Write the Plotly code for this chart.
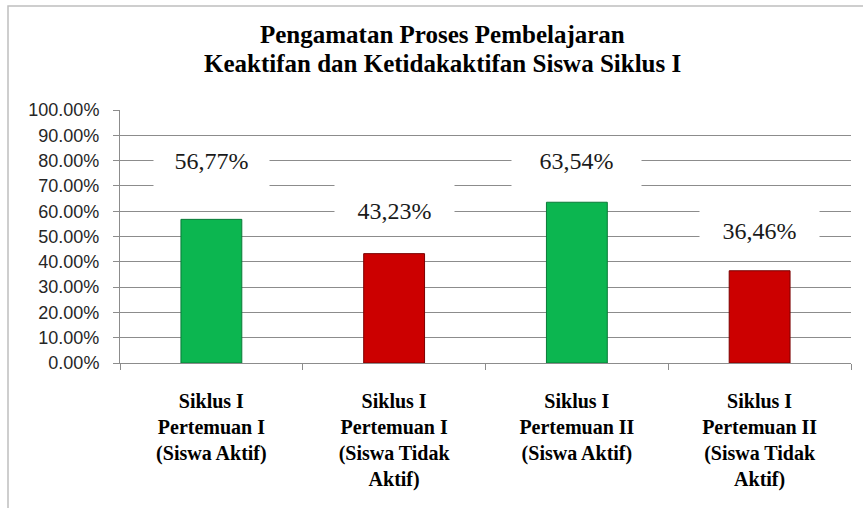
import plotly.graph_objects as go

# data
categories = [
    "Siklus I<br>Pertemuan I<br>(Siswa Aktif)",
    "Siklus I<br>Pertemuan I<br>(Siswa Tidak<br>Aktif)",
    "Siklus I<br>Pertemuan II<br>(Siswa Aktif)",
    "Siklus I<br>Pertemuan II<br>(Siswa Tidak<br>Aktif)",
]
values = [0.5677, 0.4323, 0.6354, 0.3646]
value_labels = ["56,77%", "43,23%", "63,54%", "36,46%"]
bar_colors = ["#0CB650", "#CC0000", "#0CB650", "#CC0000"]
bar_edges = ["#0A7A38", "#7A0000", "#0A7A38", "#7A0000"]

# where the data label boxes sit (moved by hand in the original)
label_box_y = [0.763, 0.636, 0.763, 0.557]
label_box_w = [115, 119, 129, 119]
label_valign = ["top", "bottom", "top", "bottom"]

serif = "Liberation Serif, Times New Roman, serif"
sans = "Liberation Sans, Arial, sans-serif"
grid = "#8C8C8C"

plot_l, plot_r, plot_t, plot_b = 120, 851, 110, 363
W, H = 863, 508
pw, ph = plot_r - plot_l, plot_b - plot_t


def px_x(x):
    return (x - plot_l) / pw


def px_y(y):
    return (plot_b - y) / ph


fig = go.Figure()
fig.add_trace(go.Bar(
    x=categories,
    y=values,
    marker=dict(color=bar_colors, line=dict(color=bar_edges, width=1)),
    hoverinfo="skip",
))

# data labels with white boxes covering the gridlines
for cat, txt, by, bw, va in zip(categories, value_labels, label_box_y, label_box_w, label_valign):
    fig.add_annotation(
        x=cat, y=by, xref="x", yref="y",
        text=txt, showarrow=False,
        font=dict(family=serif, size=24, color="#1a1a1a"),
        bgcolor="white", width=bw, height=44, valign=va, borderpad=0,
    )

# title, two lines placed separately to keep tight line spacing
for line, yc in [("Pengamatan Proses Pembelajaran", 35), ("Keaktifan dan Ketidakaktifan Siswa Siklus I", 64)]:
    fig.add_annotation(
        x=px_x(442), y=px_y(yc), xref="paper", yref="paper",
        text="<b>" + line + "</b>", showarrow=False,
        font=dict(family=serif, size=25, color="black"),
        xanchor="center", yanchor="middle",
    )

# chart area border
fig.add_shape(
    type="rect", xref="paper", yref="paper",
    x0=px_x(8), x1=px_x(W + 20), y0=px_y(H + 20), y1=px_y(6),
    line=dict(color="#BFBFBF", width=1.5), fillcolor="rgba(0,0,0,0)",
    layer="below",
)

fig.update_layout(
    width=W, height=H,
    margin=dict(l=plot_l, r=W - plot_r, t=plot_t, b=H - plot_b, autoexpand=False),
    paper_bgcolor="white", plot_bgcolor="white",
    showlegend=False,
    bargap=0.667,
    xaxis=dict(
        type="category",
        showline=True, linecolor=grid, linewidth=1,
        ticks="outside", tickson="boundaries", ticklen=6, tickcolor=grid,
        showgrid=False,
        tickfont=dict(family=serif, size=20, color="black", weight="bold"),
        ticklabelstandoff=20,
    ),
    yaxis=dict(
        range=[0, 1], dtick=0.1, tickformat=".2%",
        showline=True, linecolor=grid, linewidth=1,
        ticks="outside", ticklen=6, tickcolor=grid,
        showgrid=True, gridcolor=grid, gridwidth=1,
        zeroline=False,
        tickfont=dict(family=sans, size=18, color="#262626"),
        ticklabelstandoff=10,
    ),
)

fig.write_html("out.html", config={"displayModeBar": False},
               post_script="document.body.style.margin='0';")
